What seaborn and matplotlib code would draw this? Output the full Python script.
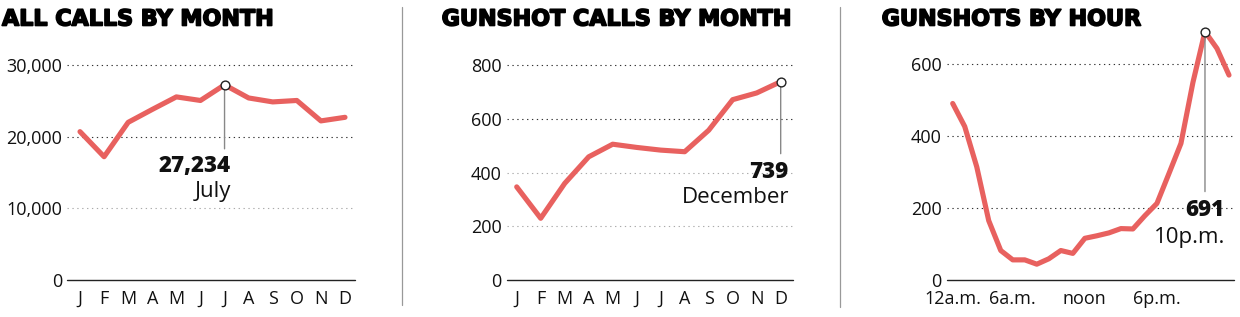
import matplotlib
matplotlib.use("Agg")
import matplotlib.pyplot as plt
import matplotlib.patheffects as pe
import seaborn as sns
import pandas as pd
from matplotlib.ticker import FuncFormatter

# ---------------- data ----------------
months = ["J", "F", "M", "A", "M", "J", "J", "A", "S", "O", "N", "D"]
month_names = ["January", "February", "March", "April", "May", "June", "July",
               "August", "September", "October", "November", "December"]
all_calls = [20700, 17200, 22000, 23800, 25550, 25050, 27234, 25400, 24850, 25050, 22200, 22700]
gunshot_calls = [347, 230, 360, 459, 506, 494, 484, 478, 558, 672, 697, 739]
hours = list(range(1, 25))
gunshots_by_hour = [491, 427, 315, 165, 82, 56, 56, 44, 59, 82, 74, 116,
                    123, 131, 143, 142, 179, 213, 296, 380, 550, 691, 644, 570]
hour_ticks = [1, 6, 12, 18]
hour_tick_labels = ["12a.m.", "6a.m.", "noon", "6p.m."]
peak_hour_label = "10p.m."

titles = ["ALL CALLS BY MONTH", "GUNSHOT CALLS BY MONTH", "GUNSHOTS BY HOUR"]
yticks = [[0, 10000, 20000, 30000], [0, 200, 400, 600, 800], [0, 200, 400, 600]]

# ---------------- style ----------------
sns.set_theme(style="white")
plt.rcParams["font.family"] = ["Open Sans", "DejaVu Sans"]
LINE = "#e8615f"
W, H = 1240, 317
fig = plt.figure(figsize=(W / 100, H / 100), dpi=100)


def px_axes(left, right, top, bottom):
    return fig.add_axes([left / W, 1 - bottom / H, (right - left) / W, (bottom - top) / H])


def style_axes(ax, ticks, dark):
    for s in ax.spines.values():
        s.set_visible(False)
    ax.set_yticks(ticks)
    ax.tick_params(axis="both", length=0, labelsize=13, colors="#111111")
    ax.tick_params(axis="y", pad=3.5)
    ax.tick_params(axis="x", pad=7)
    ax.grid(False)
    for t in ticks:
        if t == 0:
            ax.axhline(0, color="#222222", lw=1.0, zorder=1, clip_on=False)
        else:
            ax.axhline(t, color="#333333" if t in dark else "#aaaaaa", lw=0.8,
                       linestyle=(0, (1.2, 3.2)), zorder=1)
    ax.set_xlabel("")
    ax.set_ylabel("")
    ax.patch.set_alpha(0)


def annotate_peak(ax, x, y, value_text, label_text, line_len, dx, dy1, dy2):
    sns.scatterplot(x=[x], y=[y], ax=ax, s=40, color="white", edgecolor="#222222",
                    linewidth=1.0, zorder=5, clip_on=False, legend=False)
    ax.annotate("", xy=(x, y), xytext=(0, -line_len), textcoords="offset pixels",
                arrowprops=dict(arrowstyle="-", color="#888888", lw=1.0,
                                shrinkA=0, shrinkB=3), zorder=4)
    ax.annotate(value_text, xy=(x, y), xytext=(dx, -dy1), textcoords="offset pixels",
                ha="right", va="baseline", fontsize=16, fontweight="heavy", color="#111111")
    ax.annotate(label_text, xy=(x, y), xytext=(dx + 1, -dy2), textcoords="offset pixels",
                ha="right", va="baseline", fontsize=16, color="#111111")


# ---------------- panel 1 ----------------
df1 = pd.DataFrame({"m": range(12), "v": all_calls})
ax1 = px_axes(67.3, 355, 55, 280)
sns.lineplot(data=df1, x="m", y="v", ax=ax1, color=LINE, lw=3.7, zorder=3)
ax1.set_xlim(-0.527, 11.415)
ax1.set_ylim(0, 31395)
style_axes(ax1, yticks[0], dark=[20000, 30000])
ax1.set_xticks(range(12))
ax1.set_xticklabels(months)
ax1.yaxis.set_major_formatter(FuncFormatter(lambda v, p: f"{int(v):,}"))
i1 = all_calls.index(max(all_calls))
annotate_peak(ax1, i1, all_calls[i1], f"{all_calls[i1]:,}", month_names[i1], 64, 6, 87, 112)

# ---------------- panel 2 ----------------
df2 = pd.DataFrame({"m": range(12), "v": gunshot_calls})
ax2 = px_axes(506.7, 793, 55, 280)
sns.lineplot(data=df2, x="m", y="v", ax=ax2, color=LINE, lw=3.7, zorder=3)
ax2.set_xlim(-0.417, 11.513)
ax2.set_ylim(0, 838.4)
style_axes(ax2, yticks[1], dark=[600, 800])
ax2.set_xticks(range(12))
ax2.set_xticklabels(months)
i2 = gunshot_calls.index(max(gunshot_calls))
annotate_peak(ax2, i2, gunshot_calls[i2], f"{gunshot_calls[i2]:,}", month_names[i2], 72, 8, 96, 121)

# ---------------- panel 3 ----------------
df3 = pd.DataFrame({"h": hours, "v": gunshots_by_hour})
ax3 = px_axes(946.7, 1234, 25, 280)
sns.lineplot(data=df3, x="h", y="v", ax=ax3, color=LINE, lw=3.7, zorder=3)
ax3.set_xlim(0.5, 24.416)
ax3.set_ylim(0, 709.3)
style_axes(ax3, yticks[2], dark=[200, 400, 600])
ax3.set_xticks(hour_ticks)
ax3.set_xticklabels(hour_tick_labels)
i3 = gunshots_by_hour.index(max(gunshots_by_hour))
annotate_peak(ax3, hours[i3], gunshots_by_hour[i3], f"{gunshots_by_hour[i3]:,}",
              peak_hour_label, 160, 19, 184, 211)

# ---------------- titles & separators ----------------
title_x = [2, 441.7, 881.7]
for tx, t in zip(title_x, titles):
    fig.text(tx / W, 1 - 25.5 / H, t, fontsize=16, fontweight="bold",
             family=["DejaVu Sans"], ha="left", va="baseline", color="#000000",
             path_effects=[pe.withStroke(linewidth=1.2, foreground="#000000")])

for sx, y0, y1 in [(401.7, 7, 305), (840, 7, 307)]:
    fig.add_artist(plt.Line2D([sx / W, sx / W], [1 - y0 / H, 1 - y1 / H],
                              color="#999999", lw=0.9))

fig.savefig("out.png", dpi=100)
